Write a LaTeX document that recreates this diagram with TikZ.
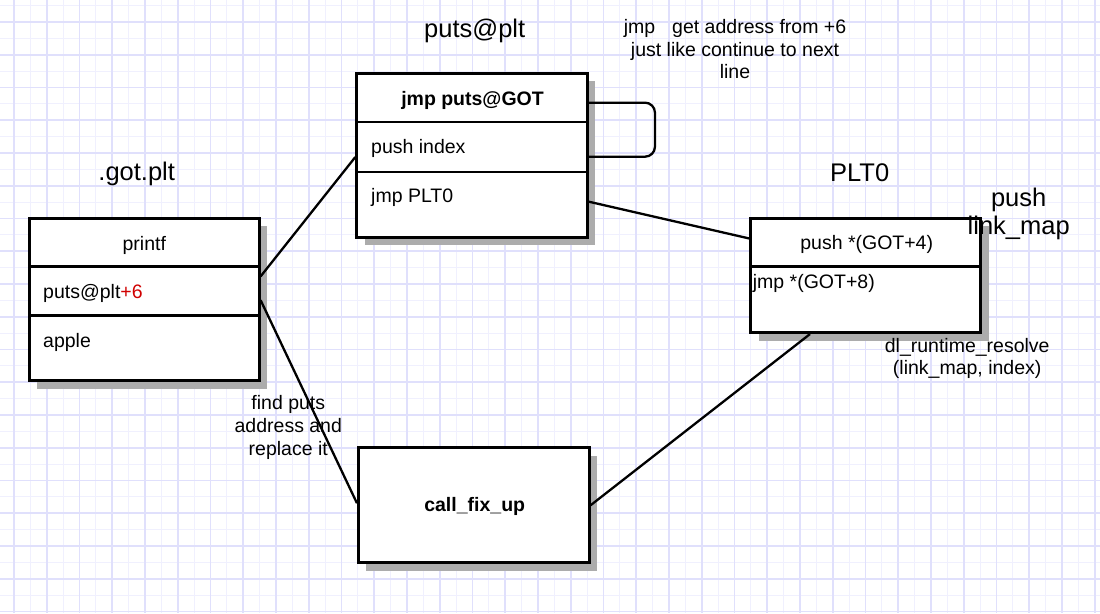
\documentclass[tikz,border=0pt]{standalone}
\usepackage{fontspec}
\setmainfont{Liberation Sans}
\usetikzlibrary{calc}
\definecolor{gridmajor}{RGB}{224,224,252}
\definecolor{gridminor}{RGB}{240,240,254}
\definecolor{shadowgray}{RGB}{172,172,172}
\definecolor{plusred}{RGB}{208,0,0}
\tikzset{
  rowbox/.style 2 args={draw=black, line width=2.7pt, fill=white, inner sep=0pt,
    minimum width=#1pt, minimum height=#2pt, rectangle},
  txt/.style={inner sep=0pt, font=\fontsize{19.5}{22.5}\selectfont},
  title/.style={inner sep=0pt, font=\fontsize{25.5}{28}\selectfont},
  conn/.style={draw=black, line width=2.3pt},
  shadowfill/.style={fill=shadowgray},
}
\begin{document}
\begin{tikzpicture}[x=1pt,y=-1pt]
\useasboundingbox (0,0) rectangle (1100,613);
\fill[white] (0,0) rectangle (1100,613);
% grid
\foreach \i in {0,...,34} {
  \draw[gridminor, line width=1.2pt] ({-2.375+32.75*\i},0) -- ({-2.375+32.75*\i},613);
}
\foreach \i in {0,...,19} {
  \draw[gridminor, line width=1.2pt] (0,{5.625+32.75*\i}) -- (1100,{5.625+32.75*\i});
}
\foreach \i in {0,...,33} {
  \draw[gridmajor, line width=1.6pt] ({14+32.75*\i},0) -- ({14+32.75*\i},613);
}
\foreach \i in {0,...,18} {
  \draw[gridmajor, line width=1.6pt] (0,{22+32.75*\i}) -- (1100,{22+32.75*\i});
}

% shadows
\fill[shadowfill] (37.3,226) rectangle (267.3,388.5);
\fill[shadowfill] (364.7,81) rectangle (595.3,245);
\fill[shadowfill] (758.7,226) rectangle (988.7,340.5);
\fill[shadowfill] (366.3,455.5) rectangle (597.3,570.5);

% box .got.plt
\node[rowbox={230}{48.4}] (a1) at (144.3,242.5) {};
\node[rowbox={230}{49}]   (a2) at (144.3,291.2) {};
\node[rowbox={230}{65}]   (a3) at (144.3,348.2) {};
% box puts@plt
\node[rowbox={230.6}{48.7}] (b1) at (472,97.65) {};
\node[rowbox={230.6}{50}]   (b2) at (472,147) {};
\node[rowbox={230.6}{65.3}] (b3) at (472,204.65) {};
% box PLT0
\node[rowbox={230}{48.4}] (c1) at (865.7,242.5) {};
\node[rowbox={230}{66}]   (c2) at (865.7,299.7) {};
% box call_fix_up
\node[rowbox={231}{115}] (d) at (473.8,505.2) {};

% box texts
\node[txt, anchor=base] (tprintf) at (144.3,250) {printf};
\node[txt, anchor=base west] (tputs) at (43,298.3) {puts@plt\textcolor{plusred}{+6}};
\node[txt, anchor=base west] (tapple) at (43,347.3) {apple};
\node[txt, anchor=base, font=\fontsize{19.5}{22.5}\selectfont\bfseries] (tjmpgot) at (472.5,105) {jmp puts@GOT};
\node[txt, anchor=base west] (tpushidx) at (371,153.3) {push index};
\node[txt, anchor=base west] (tjmpplt) at (371,202.7) {jmp PLT0};
\node[txt, anchor=base] (tpushgot) at (866.7,249.3) {push *(GOT+4)};
\node[txt, anchor=base west] (tjmpgot8) at (752.7,288.3) {jmp *(GOT+8)};
\node[txt, anchor=base, font=\fontsize{19.5}{22.5}\selectfont\bfseries] (tfix) at (474.7,511.7) {call\_fix\_up};

% titles
\node[title, anchor=base] (lgot) at (136.7,180.7) {.got.plt};
\node[title, anchor=base] (lplt) at (474.7,37.3) {puts@plt};
\node[title, anchor=base] (lplt0) at (859.7,181) {PLT0};
\node[title, anchor=north, align=center] (lpush) at (1018.7,187.5) {push\\link\_map};

% annotations
\node[txt, anchor=north, align=center] (njmp) at (735,19.2) {jmp\hspace{17pt}get address from +6\\just like continue to next\\line};
\node[txt, anchor=north, align=center, font=\fontsize{19.5}{21.7}\selectfont] (ndl) at (967.2,338.5) {dl\_runtime\_resolve\\(link\_map, index)};
\node[txt, anchor=north, align=center, font=\fontsize{19.5}{23.2}\selectfont] (nfind) at (288.3,395.1) {find puts\\address and\\replace it};

% connectors
\coordinate (loopa) at ([yshift=-5pt]b1.east);
\coordinate (loopb) at ([yshift=-9.7pt]b2.east);
\draw[conn, rounded corners=10pt] (loopa) -- ++(66.3,0) |- (loopb);
\draw[conn] ([yshift=-11pt]a2.north east) -- ([yshift=-10pt]b2.west);
\draw[conn] ([yshift=-9pt]a2.east) -- ([yshift=2pt]d.west);
\draw[conn] ([yshift=3pt]b3.east) -- ([yshift=4pt]c1.west);
\draw[conn] ([xshift=-55.7pt]c2.south) -- ([yshift=0pt]d.east);
\end{tikzpicture}
\end{document}
